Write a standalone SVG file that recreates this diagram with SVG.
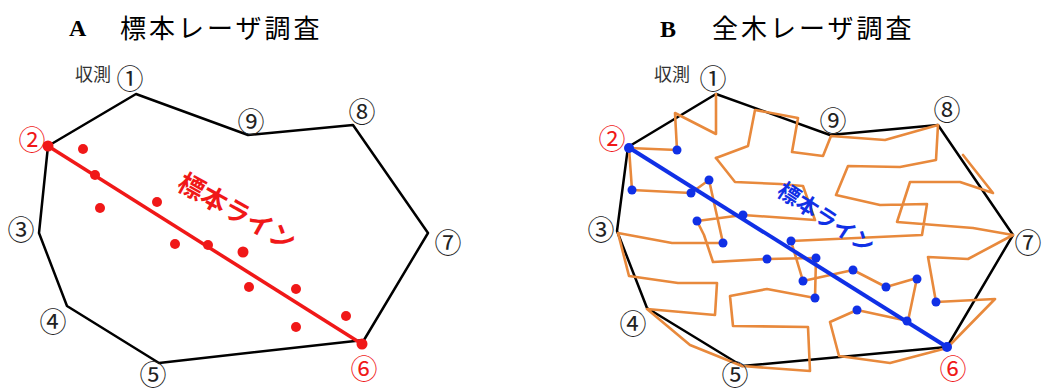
<svg xmlns="http://www.w3.org/2000/svg" width="1043" height="392" viewBox="0 0 1043 392">
<style>
.ttlA{font-family:"Liberation Serif",serif;font-weight:bold;font-size:24px;fill:#000}
.ttl{font-family:"Noto Sans CJK JP","Noto Sans",sans-serif;font-size:26px;letter-spacing:3px;fill:#000}
.num{font-family:"Noto Sans CJK JP","Noto Sans",sans-serif;font-size:27px;fill:#222;text-anchor:middle;dominant-baseline:central}
.red{fill:#f01818}
.lbl{font-family:"Noto Sans CJK JP","Noto Sans",sans-serif;font-size:18px;fill:#333}
.poly{fill:none;stroke:#000;stroke-width:2.5;stroke-linejoin:round}
.walk{fill:none;stroke:#e8893c;stroke-width:2.6;stroke-linejoin:round;stroke-linecap:round}
.rline{stroke:#f01818;stroke-width:3.5}
.bline{stroke:#1030e6;stroke-width:4}
.rdot{fill:#f01818}
.bdot{fill:#1030e6}
.ltxt{font-family:"Noto Sans CJK JP","Noto Sans",sans-serif;font-weight:bold;text-anchor:middle;dominant-baseline:central}
</style>
<rect width="1043" height="392" fill="#fff"/>

<g id="titleA"><text class="ttlA" x="69" y="36">A</text><text class="ttl" x="120" y="38">標本レーザ調査</text></g>
<g id="titleB"><text class="ttlA" x="660" y="37">B</text><text class="ttl" x="712" y="38">全木レーザ調査</text></g>

<g id="connectors">
  <polygon id="boundaryA" class="poly" points="136,94 248,135 353,125 428,233 364,340 159,363 67,306 39,233 48,146"/>
  <line id="lineA" class="rline" x1="48" y1="146" x2="362" y2="344"/>
  <polygon id="boundaryB" class="poly" points="716,94 830,135 938,125 1013,235 947,347 742,366 647,308 617,231 628,147"/>
  <g id="walkB">
    <polyline class="walk" points="629,148 677,150 675,113 716,134 716,94"/>
    <polyline class="walk" points="716,158 735,182 780,184 803,186 815,220 743,215 697,221 704,235 713,262 767,259 816,258 815,298 767,289 730,296 733,326 808,327 810,371 742,366 690,345 647,309 715,315 717,283 678,283 629,276 618,233 672,243 723,243 709,180 691,193 632,190 629,148"/>
    <polyline class="walk" points="716,158 748,146 755,110 798,118 792,152 823,156 831,136 885,140 938,125 936,160 900,167 848,166 836,195 880,205 927,204 922,235 791,241 803,281 853,270 886,287 917,278 908,321 857,310 830,322 839,356 890,363 947,348 995,299 936,302 928,257 968,259 1013,235 973,228 897,222 910,182 960,182 993,193 963,155"/>
  </g>
  <line id="lineB" class="bline" x1="628" y1="147" x2="947" y2="347"/>
</g>

<g id="dotsA">
  <circle class="rdot" cx="48" cy="146" r="5.5"/>
  <circle class="rdot" cx="83" cy="149" r="5"/>
  <circle class="rdot" cx="95" cy="175" r="5"/>
  <circle class="rdot" cx="100" cy="208" r="5"/>
  <circle class="rdot" cx="157" cy="202" r="5"/>
  <circle class="rdot" cx="175" cy="244" r="5"/>
  <circle class="rdot" cx="208" cy="245" r="5"/>
  <circle class="rdot" cx="243" cy="252" r="5.5"/>
  <circle class="rdot" cx="249" cy="287" r="5"/>
  <circle class="rdot" cx="296" cy="289" r="5"/>
  <circle class="rdot" cx="346" cy="316" r="5"/>
  <circle class="rdot" cx="296" cy="327" r="5"/>
  <circle class="rdot" cx="362" cy="344" r="5.5"/>
</g>
<g id="dotsB">
  <circle class="bdot" cx="629" cy="148" r="5"/>
  <circle class="bdot" cx="677" cy="150" r="4.5"/>
  <circle class="bdot" cx="632" cy="190" r="4.5"/>
  <circle class="bdot" cx="691" cy="193" r="4.5"/>
  <circle class="bdot" cx="709" cy="180" r="4.5"/>
  <circle class="bdot" cx="743" cy="215" r="4.5"/>
  <circle class="bdot" cx="697" cy="221" r="4.5"/>
  <circle class="bdot" cx="723" cy="243" r="4.5"/>
  <circle class="bdot" cx="791" cy="241" r="4.5"/>
  <circle class="bdot" cx="767" cy="259" r="4.5"/>
  <circle class="bdot" cx="816" cy="258" r="4.5"/>
  <circle class="bdot" cx="803" cy="281" r="4.5"/>
  <circle class="bdot" cx="853" cy="270" r="4.5"/>
  <circle class="bdot" cx="815" cy="298" r="4.5"/>
  <circle class="bdot" cx="886" cy="287" r="4.5"/>
  <circle class="bdot" cx="917" cy="279" r="4.5"/>
  <circle class="bdot" cx="936" cy="302" r="4.5"/>
  <circle class="bdot" cx="857" cy="310" r="4.5"/>
  <circle class="bdot" cx="907" cy="321" r="4.5"/>
  <circle class="bdot" cx="947" cy="347" r="5"/>
</g>

<g id="labelLineA"><text class="ltxt" font-size="26" fill="#f01818" transform="translate(238,210) rotate(29)">標本ライン</text></g>
<g id="labelLineB"><text class="ltxt" font-size="22" fill="#1030e6" transform="translate(827,216) rotate(33)">標本ライン</text></g>

<g id="nodesA">
  <g id="A-survey"><text class="lbl" x="75" y="81">収測</text></g>
  <g id="A1"><text class="num" x="130" y="77">①</text></g>
  <g id="A2"><text class="num red" x="32" y="138">②</text></g>
  <g id="A3"><text class="num" x="21" y="228">③</text></g>
  <g id="A4"><text class="num" x="53" y="320">④</text></g>
  <g id="A5"><text class="num" x="153" y="373">⑤</text></g>
  <g id="A6"><text class="num red" x="364" y="367">⑥</text></g>
  <g id="A7"><text class="num" x="448" y="241">⑦</text></g>
  <g id="A8"><text class="num" x="362" y="110">⑧</text></g>
  <g id="A9"><text class="num" x="251" y="120">⑨</text></g>
</g>
<g id="nodesB">
  <g id="B-survey"><text class="lbl" x="654" y="81">収測</text></g>
  <g id="B1"><text class="num" x="713" y="77">①</text></g>
  <g id="B2"><text class="num red" x="612" y="137">②</text></g>
  <g id="B3"><text class="num" x="601" y="228">③</text></g>
  <g id="B4"><text class="num" x="633" y="322">④</text></g>
  <g id="B5"><text class="num" x="735" y="373">⑤</text></g>
  <g id="B6"><text class="num red" x="953" y="367">⑥</text></g>
  <g id="B7"><text class="num" x="1028" y="241">⑦</text></g>
  <g id="B8"><text class="num" x="947" y="108">⑧</text></g>
  <g id="B9"><text class="num" x="833" y="119">⑨</text></g>
</g>
</svg>
